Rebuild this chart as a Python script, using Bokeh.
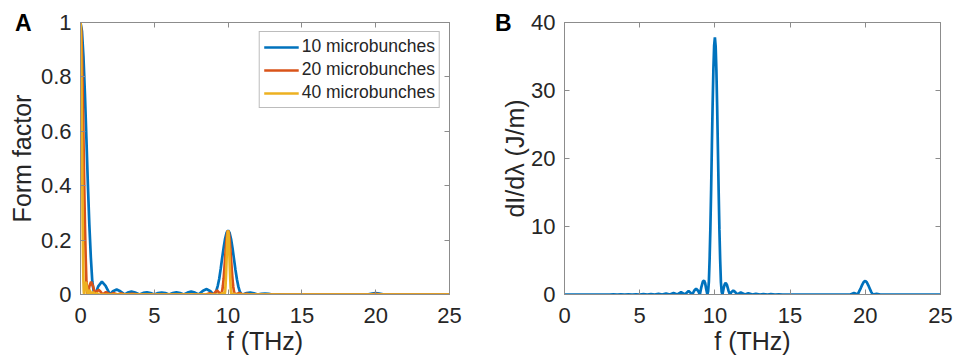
from bokeh.plotting import figure
from bokeh.models import Range1d, FixedTicker, LinearAxis
from bokeh.layouts import row
from bokeh.embed import file_html
from bokeh.resources import INLINE

# ---------------- data ----------------
x_ticks = [0, 5, 10, 15, 20, 25]
x_tick_labels = ["0", "5", "10", "15", "20", "25"]
a_y_ticks = [0, 0.2, 0.4, 0.6, 0.8, 1]
a_y_tick_labels = ["0", "0.2", "0.4", "0.6", "0.8", "1"]
b_y_ticks = [0, 10, 20, 30, 40]
b_y_tick_labels = ["0", "10", "20", "30", "40"]

series_names = ["10 microbunches", "20 microbunches", "40 microbunches"]

f_10 = [0, 0.1, 0.2, 0.3, 0.4, 0.5, 0.6, 0.7, 0.8, 0.9, 1.0, 1.2, 1.45, 1.7, 2.0,
        2.2, 2.45, 2.7, 3.0, 3.2, 3.45, 3.7, 4.0, 4.25, 4.5, 4.75, 5.0, 5.25, 5.5,
        5.75, 6.0, 6.25, 6.5, 6.75, 7.0, 7.25, 7.5, 7.75, 8.0, 8.3, 8.55, 8.8, 9.0,
        9.1, 9.2, 9.3, 9.4, 9.5, 9.6, 9.7, 9.8, 9.9, 10.0, 10.1, 10.2, 10.3, 10.4,
        10.5, 10.6, 10.7, 10.8, 10.9, 11.0, 11.25, 11.5, 11.75, 12.0, 12.25, 12.5,
        12.75, 13.0, 13.5, 14.0, 19.0, 19.5, 19.75, 20.0, 20.25, 20.5, 21.0, 25.0]
ff_10 = [1.0, 0.968, 0.875, 0.737, 0.573, 0.405, 0.255, 0.137, 0.047, 0.01, 0.0,
         0.03, 0.047, 0.032, 0.0, 0.012, 0.018, 0.012, 0.0, 0.007, 0.011, 0.007, 0.0,
         0.006, 0.008, 0.005, 0.0, 0.005, 0.007, 0.005, 0.0, 0.005, 0.008, 0.005, 0.0,
         0.007, 0.011, 0.007, 0.0, 0.014, 0.02, 0.012, 0.0, 0.003, 0.013, 0.032, 0.058,
         0.095, 0.135, 0.173, 0.206, 0.228, 0.235, 0.227, 0.204, 0.17, 0.13, 0.09,
         0.055, 0.028, 0.01, 0.002, 0.0, 0.005, 0.007, 0.004, 0.0, 0.002, 0.003, 0.002,
         0.0, 0.001, 0.0, 0.0, 0.001, 0.003, 0.005, 0.003, 0.001, 0.0, 0.0]

f_20 = [0, 0.05, 0.1, 0.15, 0.2, 0.25, 0.3, 0.35, 0.4, 0.45, 0.5, 0.6, 0.72, 0.85,
        1.0, 1.1, 1.22, 1.35, 1.5, 1.72, 2.0, 2.22, 2.5, 2.72, 3.0, 3.5, 4.0, 8.5,
        8.75, 9.0, 9.25, 9.5, 9.55, 9.6, 9.65, 9.7, 9.75, 9.8, 9.85, 9.9, 9.95, 10.0,
        10.05, 10.1, 10.15, 10.2, 10.25, 10.3, 10.35, 10.4, 10.45, 10.5, 10.75, 11.0,
        11.25, 11.5, 19.5, 19.75, 20.0, 20.25, 20.5, 25.0]
ff_20 = [1.0, 0.968, 0.875, 0.737, 0.573, 0.405, 0.255, 0.137, 0.047, 0.01, 0.0,
         0.03, 0.047, 0.03, 0.0, 0.011, 0.017, 0.011, 0.0, 0.009, 0.0, 0.005, 0.0,
         0.004, 0.0, 0.002, 0.0, 0.0, 0.004, 0.0, 0.015, 0.0, 0.003, 0.013, 0.032,
         0.058, 0.095, 0.135, 0.173, 0.206, 0.228, 0.235, 0.227, 0.204, 0.17, 0.13,
         0.09, 0.055, 0.028, 0.01, 0.002, 0.0, 0.006, 0.0, 0.002, 0.0, 0.0, 0.001,
         0.002, 0.001, 0.0, 0.0]

f_40 = [0, 0.025, 0.05, 0.075, 0.1, 0.125, 0.15, 0.175, 0.2, 0.225, 0.25, 0.3, 0.36,
        0.42, 0.5, 0.61, 0.75, 0.86, 1.0, 1.11, 1.25, 9.5, 9.62, 9.75, 9.775, 9.8,
        9.825, 9.85, 9.875, 9.9, 9.925, 9.95, 9.975, 10.0, 10.025, 10.05, 10.075,
        10.1, 10.125, 10.15, 10.175, 10.2, 10.225, 10.25, 10.37, 10.5, 25.0]
ff_40 = [1.0, 0.968, 0.875, 0.737, 0.573, 0.405, 0.255, 0.137, 0.047, 0.01, 0.0,
         0.03, 0.047, 0.03, 0.0, 0.017, 0.0, 0.009, 0.0, 0.005, 0.0, 0.0, 0.006, 0.0,
         0.003, 0.013, 0.032, 0.058, 0.095, 0.135, 0.173, 0.206, 0.228, 0.235, 0.227,
         0.204, 0.17, 0.13, 0.09, 0.055, 0.028, 0.01, 0.002, 0.0, 0.003, 0.0, 0.0]

f_b = [0, 3.0, 3.25, 3.5, 3.75, 4.0, 4.25, 4.5, 4.75, 5.0, 5.25, 5.5, 5.75, 6.0, 6.25,
       6.5, 6.75, 7.0, 7.25, 7.5, 7.75, 8.0, 8.25, 8.5, 8.62, 8.75, 8.88, 9.0, 9.1,
       9.2, 9.28, 9.35, 9.42, 9.5, 9.55, 9.6, 9.65, 9.7, 9.75, 9.8, 9.85, 9.9, 9.95,
       10.0, 10.05, 10.1, 10.15, 10.2, 10.25, 10.3, 10.35, 10.4, 10.45, 10.5, 10.58,
       10.65, 10.72, 10.8, 10.9, 11.0, 11.1, 11.22, 11.35, 11.5, 11.72, 12.0, 12.22,
       12.5, 12.72, 13.0, 13.22, 13.5, 13.72, 14.0, 14.25, 14.5, 19.0, 19.25, 19.5,
       19.6, 19.7, 19.8, 19.9, 20.0, 20.1, 20.2, 20.3, 20.4, 20.5, 20.75, 21.0, 25.0]
dI_b = [0.0, 0.0, 0.02, 0.0, 0.02, 0.0, 0.03, 0.0, 0.04, 0.0, 0.05, 0.0, 0.07, 0.0,
        0.1, 0.0, 0.14, 0.0, 0.2, 0.0, 0.33, 0.0, 0.5, 0.0, 0.55, 0.85, 0.55, 0.0,
        1.1, 1.9, 2.05, 1.7, 0.8, 0.0, 0.5, 1.9, 5.3, 9.8, 15.5, 21.9, 28.0, 33.1,
        36.6, 37.8, 36.5, 32.9, 27.6, 21.4, 15.1, 9.5, 5.1, 1.8, 0.4, 0.0, 0.9, 1.5,
        1.7, 1.4, 0.6, 0.0, 0.35, 0.6, 0.35, 0.0, 0.3, 0.0, 0.18, 0.0, 0.1, 0.0, 0.07,
        0.0, 0.05, 0.0, 0.03, 0.0, 0.0, 0.2, 0.0, 0.5, 0.95, 1.45, 1.85, 2.0, 1.8,
        1.35, 0.85, 0.35, 0.0, 0.1, 0.0, 0.0]

panel_letters = ["A", "B"]

# ---------------- style ----------------
FONT = "Liberation Sans"
TXT = "#262626"
AX = "#8c8c8c"
COLORS = ["#0072BD", "#D95319", "#EDB120"]
LW = 2.7
TICK_FS = "22px"
LABEL_FS = "25px"


def style_axes(p, xt, xl, yt, yl, xlabel, ylabel, ystand):
    ax_x = p.xaxis[0]
    ax_y = p.yaxis[0]
    ax_x.ticker = FixedTicker(ticks=xt)
    ax_x.major_label_overrides = {t: s for t, s in zip(xt, xl)}
    ax_y.ticker = FixedTicker(ticks=yt)
    ax_y.major_label_overrides = {t: s for t, s in zip(yt, yl)}
    ax_x.axis_label = xlabel
    ax_y.axis_label = ylabel
    for ax in (ax_x, ax_y):
        ax.axis_line_color = AX
        ax.major_tick_line_color = AX
        ax.major_tick_in = 5
        ax.major_tick_out = 0
        ax.minor_tick_line_color = None
        ax.major_label_text_font = FONT
        ax.major_label_text_font_size = TICK_FS
        ax.major_label_text_color = TXT
        ax.axis_label_text_font = FONT
        ax.axis_label_text_font_size = LABEL_FS
        ax.axis_label_text_font_style = "normal"
        ax.axis_label_text_color = TXT
    ax_x.major_label_standoff = 13
    ax_x.axis_label_standoff = 1
    ax_y.major_label_standoff = 9
    ax_y.axis_label_standoff = ystand
    # top and right tick-only axes (MATLAB box ticks)
    top = LinearAxis(ticker=FixedTicker(ticks=xt))
    right = LinearAxis(ticker=FixedTicker(ticks=yt))
    for ax in (top, right):
        ax.axis_line_color = AX
        ax.major_tick_line_color = AX
        ax.major_tick_in = 5
        ax.major_tick_out = 0
        ax.minor_tick_line_color = None
        ax.major_label_text_color = None
        ax.major_label_text_font_size = "1px"
        ax.major_label_standoff = 0
    p.add_layout(top, "above")
    p.add_layout(right, "right")
    p.xgrid.grid_line_color = None
    p.ygrid.grid_line_color = None
    p.outline_line_color = AX
    p.outline_line_width = 1
    p.background_fill_color = "white"
    p.border_fill_color = "white"


def panel_letter(p, text, y, standoff):
    # outer left axis carrying only the panel letter as its single tick label
    ax = LinearAxis(ticker=FixedTicker(ticks=[y]), major_label_overrides={y: text})
    ax.axis_line_color = None
    ax.major_tick_line_color = None
    ax.minor_tick_line_color = None
    ax.major_tick_in = 0
    ax.major_tick_out = 0
    ax.major_label_standoff = standoff
    ax.major_label_text_font = FONT
    ax.major_label_text_font_size = "23px"
    ax.major_label_text_font_style = "bold"
    ax.major_label_text_color = "black"
    p.add_layout(ax, "left")


# ---------------- panel A ----------------
pa = figure(width=470, height=363, output_backend="svg", toolbar_location=None,
            x_range=Range1d(0, 25), y_range=Range1d(0, 1),
            min_border_left=80, min_border_right=21, min_border_top=22,
            min_border_bottom=69)
pa.line(f_10, ff_10, line_color=COLORS[0], line_width=LW, legend_label=series_names[0])
pa.line(f_20, ff_20, line_color=COLORS[1], line_width=LW, legend_label=series_names[1])
pa.line(f_40, ff_40, line_color=COLORS[2], line_width=LW, legend_label=series_names[2])
style_axes(pa, x_ticks, x_tick_labels, a_y_ticks, a_y_tick_labels,
           "f (THz)", "Form factor", 2)
lg = pa.legend[0]
lg.location = "top_right"
lg.margin = 9
lg.padding = 4
lg.spacing = 2
lg.glyph_width = 35
lg.glyph_height = 20
lg.label_height = 20
lg.label_standoff = 3
lg.label_text_font = FONT
lg.label_text_font_size = "17.5px"
lg.label_text_color = TXT
lg.border_line_color = "#7a7a7a"
lg.border_line_width = 1
lg.background_fill_alpha = 1.0
panel_letter(pa, panel_letters[0], 0.999, -27)

# ---------------- panel B ----------------
pb = figure(width=484, height=363, output_backend="svg", toolbar_location=None,
            x_range=Range1d(0, 25), y_range=Range1d(0, 40),
            min_border_left=94, min_border_right=14, min_border_top=22,
            min_border_bottom=69)
pb.line(f_b, dI_b, line_color=COLORS[0], line_width=LW)
style_axes(pb, x_ticks, x_tick_labels, b_y_ticks, b_y_tick_labels,
           "f (THz)", "dI/d\u03bb (J/m)", -1)
panel_letter(pb, panel_letters[1], 39.95, -13)

layout = row(pa, pb)
open("out.html", "w").write(file_html(layout, INLINE))
